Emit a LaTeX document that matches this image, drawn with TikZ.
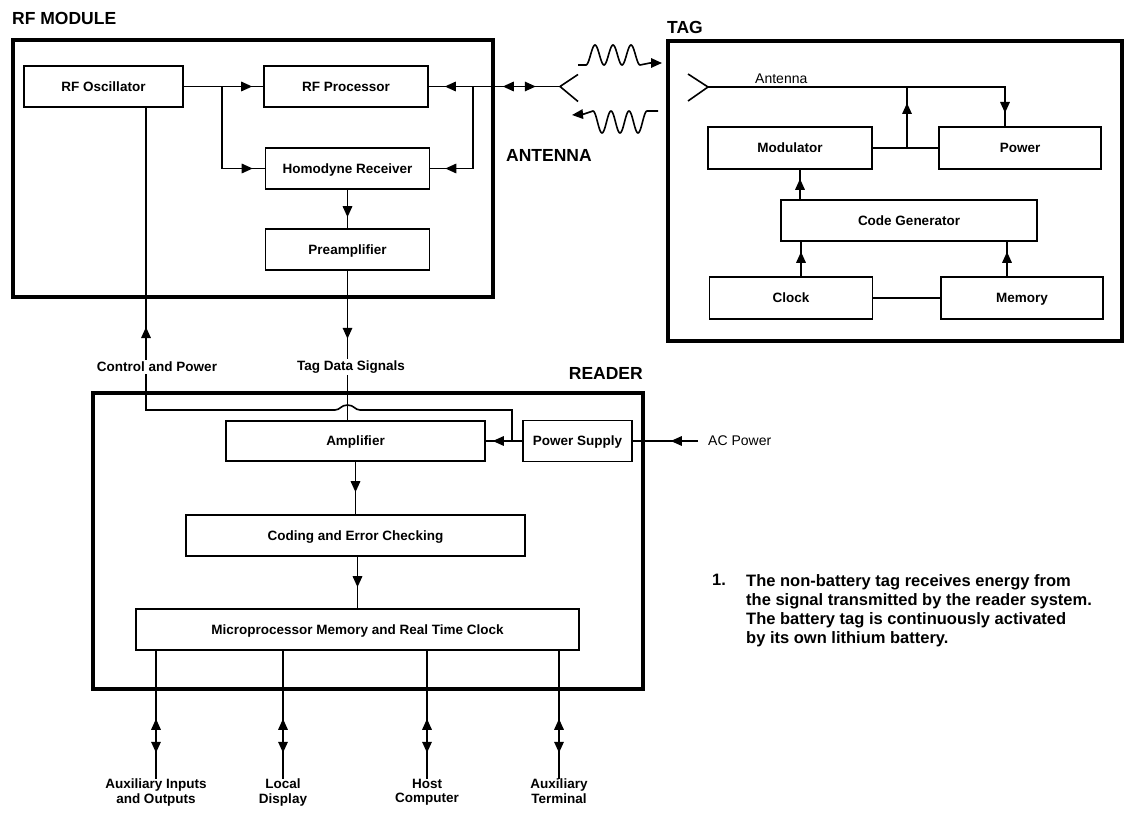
\documentclass[tikz,border=0pt]{standalone}
\usepackage{fontspec}
\setmainfont{Liberation Sans}
\usetikzlibrary{arrows.meta,positioning,decorations.markings}

\newcommand\boxfont{\fontsize{13.5}{14.5}\selectfont\bfseries}
\newcommand\titlefont{\fontsize{17.5}{20}\selectfont\bfseries}
\newcommand\plainfont{\fontsize{14}{16}\selectfont}
\newcommand\notefont{\fontsize{16.5}{19}\selectfont\bfseries}

\begin{document}
\begin{tikzpicture}[
      x=1pt, y=-1pt,
      font=\boxfont,
      >={Triangle[length=11pt, width=9.5pt]},
      box/.style={rectangle, draw, line width=1.6pt, minimum height=41pt, inner sep=0pt,
        text height=9.7pt, text depth=0pt},
      frame/.style={draw, line width=3.6pt},
      title/.style={font=\titlefont, inner sep=0pt},
      wire/.style={line width=1.6pt},
      arrow/.style={wire, postaction={decorate},
        decoration={markings, mark=at position #1 with {\arrow{>}}}},
      both/.style={wire, postaction={decorate},
        decoration={markings, mark=at position 68pt with {\arrowreversed{>}},
          mark=at position 102pt with {\arrow{>}}}},
      wave/.style={line width=1.6pt, ->},
      onwire/.style={fill=white, inner sep=2pt}
    ]
      \useasboundingbox (0,0) rectangle (1129,813);

      % RF module
      \node[title, anchor=west] (rftitle) at (12,18) {RF MODULE};
      \node[box, minimum width=159pt] (osc) at (103.5,86.5) {RF Oscillator};
      \node[box, minimum width=164pt] (proc) at (346,86.5) {RF Processor};
      \node[box, minimum width=164pt] (homo) at (347.5,168.5) {Homodyne Receiver};
      \node[box, minimum width=164pt] (pre) at (347.5,249.5) {Preamplifier};
      \draw[frame] (13,40) rectangle (493,297);

      \coordinate (split) at (222,86.5);
      \coordinate (rjoin) at (473,86.5);
      \coordinate (fork) at (560,86.5);
      \draw[arrow=-11pt] (osc) -- (proc);
      \draw[arrow=-12pt] (split) |- (homo.west);
      \draw[arrow=-15pt] (rjoin) |- (homo.east);
      \draw[arrow=-11pt] (homo) -- (pre);
      \draw[wire, postaction={decorate}, decoration={markings,
          mark=at position 16pt with {\arrowreversed{>}},
          mark=at position 74pt with {\arrowreversed{>}},
          mark=at position 107pt with {\arrow{>}}}] (proc.east) -- (fork);
      \draw[wire] (fork) -- ++(18,-12) (fork) -- ++(18,15);
      \node[title, anchor=west] (antenna) at (506,155) {ANTENNA};

      \draw[wave] (578,65) -- (586,65) -- plot[domain=0:3, samples=61, smooth]
        ({586+18*\x}, {55+10*cos(360*\x)}) -- (650,63) -- (662,63);
      \draw[wave] (658,111) -- (647,111) -- plot[domain=0:3, samples=61, smooth]
        ({647-18*\x}, {122-11*cos(360*\x)}) -- (584,114) -- (572,115);

      % tag
      \node[title, anchor=west] (tagtitle) at (667,27) {TAG};
      \node[box, minimum width=164pt, minimum height=42pt] (mod) at (790,148) {Modulator};
      \node[box, minimum width=162pt, minimum height=42pt] (pwr) at (1020,148) {Power};
      \node[box, minimum width=256pt] (codegen) at (909,220.5) {Code Generator};
      \node[box, minimum width=163pt, minimum height=42pt] (clk) at (791,298) {Clock};
      \node[box, minimum width=162pt, minimum height=42pt] (mem) at (1022,298) {Memory};
      \draw[frame] (668,41) rectangle (1122,341);

      \coordinate (tfork) at (708,87);
      \coordinate (pwrin) at (1005,127);
      \coordinate (mjoin) at (907,148);
      \draw[wire] (tfork) -- ++(-20,-13) (tfork) -- ++(-20,14);
      \node[anchor=south west, font=\plainfont, inner sep=1pt] (antlbl) at (754,85) {Antenna};
      \draw[arrow=-14pt] (tfork) -| (pwrin);
      \draw[wire] (mod) -- (pwr);
      \draw[arrow=45pt] (mjoin) -- (mjoin |- tfork);
      \draw[arrow=-9pt] ([xshift=-109pt]codegen.north) -- ([xshift=10pt]mod.south);
      \draw[arrow=-10pt] ([xshift=10pt]clk.north) -- ([xshift=-108pt]codegen.south);
      \draw[arrow=-10pt] ([xshift=-15pt]mem.north) -- ([xshift=98pt]codegen.south);
      \draw[wire] (clk) -- (mem);

      % reader
      \node[title, anchor=east] (readertitle) at (643,373) {READER};
      \node[box, minimum width=259pt, minimum height=40pt] (amp) at (355.5,441) {Amplifier};
      \node[box, minimum width=109pt] (psu) at (577.5,441) {Power Supply};
      \node[box, minimum width=339pt] (coding) at (355.5,535.5) {Coding and Error Checking};
      \node[box, minimum width=443pt] (micro) at (357.5,629.5) {Microprocessor Memory and Real Time Clock};
      \draw[frame] (93,393) rectangle (643,689);

      \coordinate (psujoin) at (512,441);
      \coordinate (oscdown) at (146,107);
      \draw[arrow=-7pt] (psu) -- (amp);
      \draw[arrow=-22pt] (amp) -- (coding);
      \draw[arrow=-21pt] (micro.north |- coding.south) -- (micro.north);
      \draw[wire, postaction={decorate}, decoration={markings,
          mark=at position -220pt with {\arrow{>}}}]
        (psujoin) -- (512,410) -- (360,410)
        .. controls (355,410) and (354,405) .. (347.5,405)
        .. controls (341,405) and (340,410) .. (335,410)
        -- (146,410) -- (oscdown);
      \draw[arrow=68pt] (pre.south) -- (pre.south |- amp.north);
      \node[onwire] (ctrl) at (157,367) {Control and Power};
      \node[onwire] (tagdata) at (351,367) {Tag Data Signals};

      \node[anchor=west, font=\plainfont, inner xsep=0pt] (ac) at (708,441) {AC Power};
      \draw[arrow=-38pt] ([xshift=-10pt]ac.west) -- (psu);

      \foreach \px/\txt [count=\i] in {156/{Auxiliary Inputs\\and Outputs},
          283/{Local\\Display}, 427/{Host\\Computer}, 559/{Auxiliary\\Terminal}} {
        \node[align=center, anchor=north, inner sep=0pt] (io\i) at (\px,779) {\txt};
        \draw[both] (micro.south -| io\i.north) -- (io\i.north);
      }

      % note
      \node[anchor=north west, font=\notefont, inner sep=0pt] (num) at (712,574) {1.};
      \node[anchor=north west, font=\notefont, align=left, inner sep=0pt] (note)
        at ([xshift=34pt]num.north west) {The non-battery tag receives energy from\\
        the signal transmitted by the reader system.\\
        The battery tag is continuously activated\\
        by its own lithium battery.};
    \end{tikzpicture}
\end{document}
